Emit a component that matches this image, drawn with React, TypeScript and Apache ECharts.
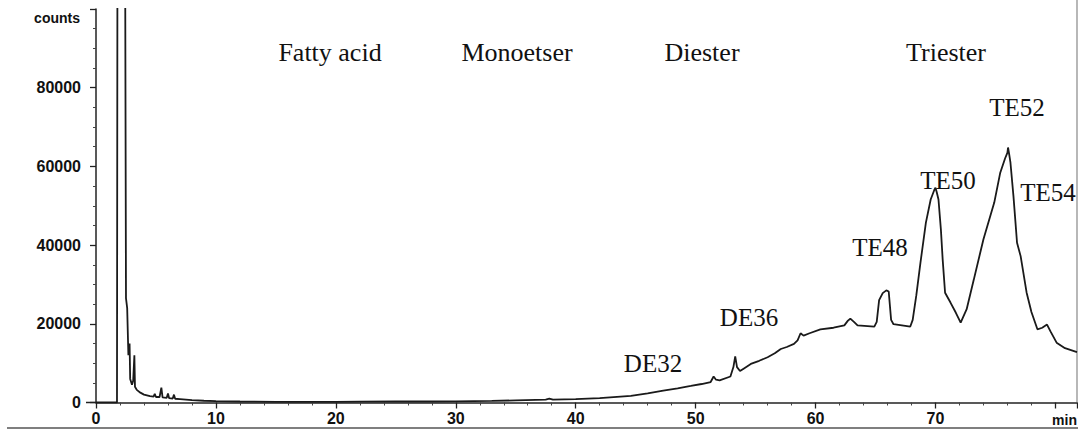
import React, { useEffect, useRef } from "react";
import * as echarts from "echarts";

// retention time (min)
const times: number[] = [
  0, 1.75, 1.8, 2.4, 2.5, 2.6, 2.7, 2.8, 2.85, 3.0, 3.1, 3.2, 3.25, 3.4, 3.7, 4.0, 4.5, 4.8, 4.9, 5.0,
  5.3, 5.45, 5.55, 5.9, 6.0, 6.1, 6.4, 6.5, 6.6, 7, 8, 9, 10, 12, 15, 18, 20, 22, 25, 28,
  30, 33, 35, 37.5, 37.8, 38.1, 40, 42, 44.6, 46, 47.3, 48.5, 49.6, 50.5, 51.25, 51.5, 51.7, 52.0, 52.9, 53.15,
  53.3, 53.45, 53.7, 54.0, 54.6, 55.3, 56, 56.6, 57.1, 57.6, 58.2, 58.5, 58.75, 59.0, 59.5, 60.4, 61.5, 62.4, 62.7, 62.9,
  63.2, 63.5, 64.9, 65.1, 65.3, 65.6, 65.9, 66.1, 66.3, 66.5, 67.9, 68.1, 68.4, 68.75, 69.2, 69.6, 69.9, 70.0, 70.1, 70.25,
  70.45, 70.6, 70.8, 71.25, 71.7, 72.1, 72.6, 73.2, 74.0, 74.9, 75.4, 75.8, 76.0, 76.05, 76.15, 76.25, 76.5, 76.8, 77.1, 77.6,
  78.0, 78.5, 78.9, 79.3, 79.6, 80.1, 80.8, 81.8,
];

// detector response (counts)
const counts: number[] = [
  0, 0, 150000, 150000, 26500, 24000, 12000, 15000, 6000, 4500, 5500, 12000, 4000, 3200, 2500, 2000, 1600, 1500, 2200, 1400,
  1400, 3800, 1300, 1200, 2300, 1100, 1000, 2000, 950, 850, 600, 450, 350, 250, 180, 150, 150, 200, 250, 250,
  300, 400, 550, 750, 1000, 750, 850, 1100, 1700, 2300, 3000, 3600, 4200, 4700, 5200, 6600, 5800, 5600, 6600, 9000,
  11700, 9000, 8000, 8600, 9800, 10600, 11500, 12500, 13600, 14100, 14900, 15800, 17600, 17000, 17600, 18600, 19000, 19600, 20800, 21300,
  20500, 19600, 19300, 20500, 26000, 27800, 28500, 28200, 21000, 19900, 19300, 21000, 27200, 35600, 45700, 51600, 54000, 54600, 53500, 51600,
  44000, 36300, 27900, 25400, 22800, 20300, 23700, 31300, 41500, 50800, 58400, 62000, 63500, 64800, 63000, 61000, 52500, 40600, 37200, 27900,
  23000, 18600, 19000, 19800, 18000, 15200, 13800, 12800,
];

const groupLabels: string[] = ["Fatty acid", "Monoetser", "Diester", "Triester"];
const peakLabels: string[] = ["DE32", "DE36", "TE48", "TE50", "TE52", "TE54"];

export default function App() {
  const ref = useRef<HTMLDivElement>(null);

  useEffect(() => {
    if (!ref.current) return;
    const chart = echarts.init(ref.current, null, { renderer: "svg" });

    const numFont = {
      fontFamily: "Liberation Sans, Arial, sans-serif",
      fontWeight: "bold" as const,
      fontSize: 16,
      color: "#111",
    };
    const serif = "Liberation Serif, Times New Roman, serif";

    const groupPos = [
      [330, 52],
      [517, 52],
      [702, 52],
      [946, 52],
    ];
    const peakPos = [
      [653, 363],
      [749, 317],
      [880, 247],
      [948, 180],
      [1017, 107],
      [1048, 192],
    ];

    const texts: any[] = [];
    groupLabels.forEach((t, i) =>
      texts.push({
        type: "text",
        x: groupPos[i][0],
        y: groupPos[i][1],
        style: { text: t, fontFamily: serif, fontSize: 26, fill: "#111", align: "center", verticalAlign: "middle" },
        z: 100,
      })
    );
    peakLabels.forEach((t, i) =>
      texts.push({
        type: "text",
        x: peakPos[i][0],
        y: peakPos[i][1],
        style: { text: t, fontFamily: serif, fontSize: 25, fill: "#111", align: "center", verticalAlign: "middle" },
        z: 100,
      })
    );

    chart.setOption({
      animation: false,
      backgroundColor: "#fff",
      grid: { left: 96, top: 9, width: 981, height: 393.5, containLabel: false },
      xAxis: {
        type: "value",
        min: 0,
        max: 81.8,
        interval: 10,
        splitLine: { show: false },
        axisLine: { show: true, onZero: false, lineStyle: { color: "#222", width: 1.5 } },
        axisTick: { show: true, length: 6, lineStyle: { color: "#222", width: 1.3 } },
        minorTick: { show: true, splitNumber: 5, length: 3, lineStyle: { color: "#444", width: 1 } },
        axisLabel: {
          ...numFont,
          margin: 8,
          showMaxLabel: false,
          formatter: (v: number) => (v > 75 ? "" : String(v)),
        },
      },
      yAxis: {
        type: "value",
        min: 0,
        max: 100000,
        interval: 20000,
        splitLine: { show: false },
        axisLine: { show: true, lineStyle: { color: "#222", width: 1.5 } },
        axisTick: { show: true, length: 6, lineStyle: { color: "#222", width: 1.3 } },
        minorTick: { show: true, splitNumber: 4, length: 3, lineStyle: { color: "#444", width: 1 } },
        axisLabel: {
          ...numFont,
          margin: 15,
          formatter: (v: number) => (v >= 100000 ? "" : String(v)),
        },
      },
      series: [
        {
          type: "line",
          data: times.map((t, i) => [t, counts[i]]),
          showSymbol: false,
          clip: true,
          lineStyle: { color: "#1a1a1a", width: 1.8 },
          z: 5,
        },
      ],
      graphic: [
        ...texts,
        {
          type: "text",
          x: 80,
          y: 18,
          style: {
            text: "counts",
            fontFamily: "Liberation Sans, Arial, sans-serif",
            fontWeight: "bold",
            fontSize: 14,
            fill: "#111",
            align: "right",
            verticalAlign: "middle",
          },
        },
        {
          type: "text",
          x: 1077,
          y: 420,
          style: {
            text: "min",
            fontFamily: "Liberation Sans, Arial, sans-serif",
            fontWeight: "bold",
            fontSize: 14,
            fill: "#111",
            align: "right",
            verticalAlign: "middle",
          },
        },
        {
          type: "line",
          shape: { x1: 1077, y1: 0, x2: 1077, y2: 402 },
          style: { stroke: "#888", lineWidth: 1.2 },
        },
        {
          type: "line",
          shape: { x1: 7, y1: 428, x2: 1078, y2: 428 },
          style: { stroke: "#555", lineWidth: 1.5 },
        },
        {
          type: "line",
          shape: { x1: 86, y1: 402.5, x2: 96, y2: 402.5 },
          style: { stroke: "#222", lineWidth: 1.5 },
        },
      ],
    });

    return () => chart.dispose();
  }, []);

  return (
    <div
      ref={ref}
      style={{ position: "absolute", left: 0, top: 0, width: 1078, height: 430, background: "#fff" }}
    />
  );
}
